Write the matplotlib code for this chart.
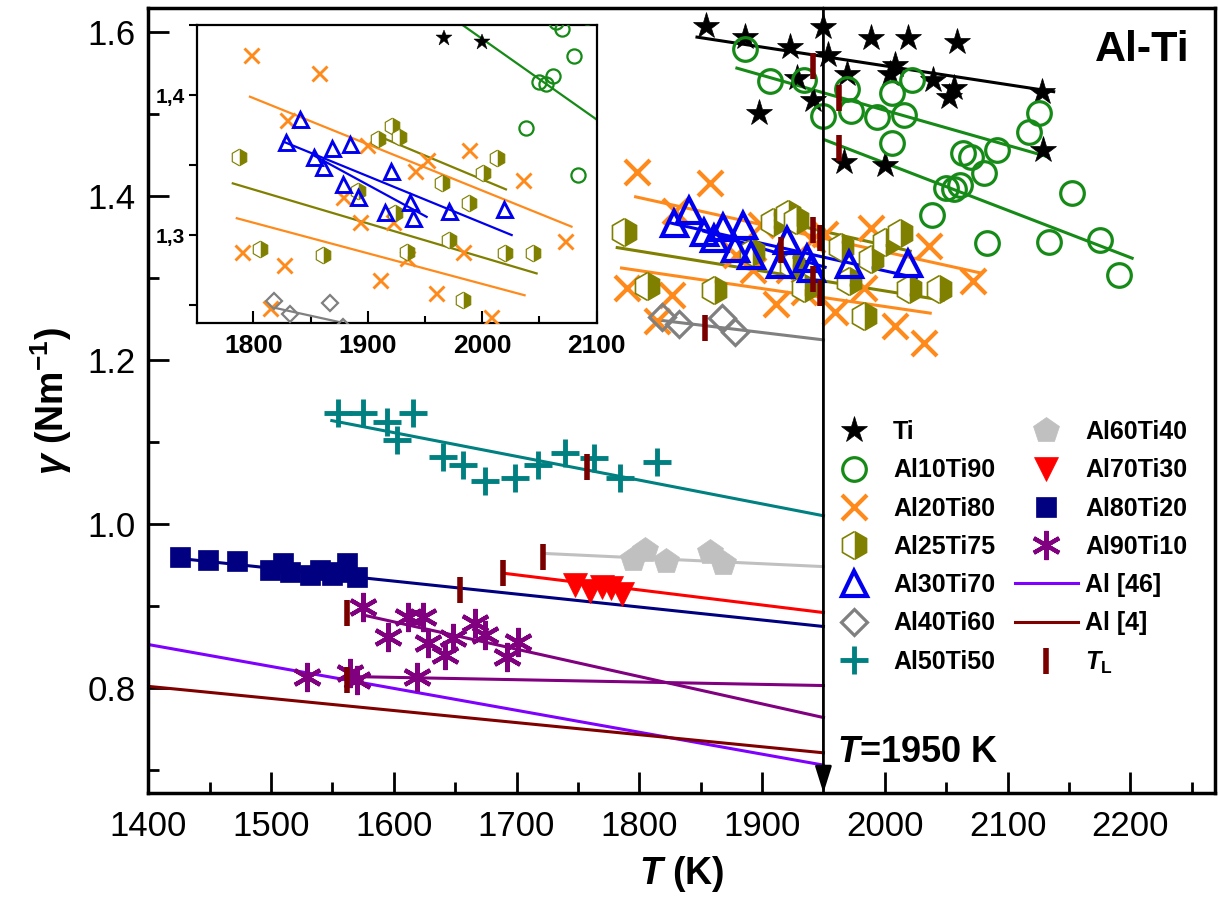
import matplotlib
matplotlib.use('Agg')
import matplotlib.pyplot as plt
from matplotlib.ticker import MultipleLocator, FixedLocator, FuncFormatter

plt.rcParams['font.family'] = ['Liberation Sans', 'DejaVu Sans']
plt.rcParams['mathtext.fontset'] = 'custom'
plt.rcParams['mathtext.rm'] = 'Liberation Sans:bold'
plt.rcParams['mathtext.it'] = 'Liberation Sans:italic:bold'
plt.rcParams['mathtext.bf'] = 'Liberation Sans:bold'

# ---------------- data (T in K, gamma in N/m) ----------------
ti_T = [1854.5, 1886, 1923, 1950, 1954, 1969, 1989, 2019, 2008.5, 2004, 2059, 2039.5,
        2056, 2052, 2128, 2129, 1897.6, 1941.7, 1967, 2000, 1928.6]
ti_g = [1.6065, 1.594, 1.581, 1.606, 1.572, 1.548, 1.593, 1.593, 1.560, 1.548, 1.587, 1.5415,
        1.532, 1.521, 1.526, 1.456, 1.501, 1.517, 1.441, 1.438, 1.544]

al10_T = [1886.3, 1906.7, 1933.8, 1949.6, 1969.2, 1972.4, 1993.6, 2005.8, 2022, 2015.9, 2005.8,
          2125.3, 2117.2, 2070, 2091.4, 2080.5, 2061.5, 2056, 2050, 2152.6, 2038.5, 2083.3,
          2133.5, 2175.6, 2190.5, 2064]
al10_g = [1.579, 1.540, 1.5415, 1.4976, 1.530, 1.503, 1.4967, 1.525, 1.5415, 1.4988, 1.465,
          1.5008, 1.4784, 1.447, 1.456, 1.4277, 1.4134, 1.408, 1.4095, 1.404, 1.3768, 1.343,
          1.3443, 1.3463, 1.3037, 1.452]

al20_T = [1798, 1857.7, 1829, 1899, 1951.4, 1941, 1988.6, 2035.8, 2072, 1790, 1826.8, 1878.6,
          1893, 1922, 1934, 1983.4, 1911, 1959.6, 1814.6, 2008, 2031.6]
al20_g = [1.4286, 1.4155, 1.382, 1.364, 1.3536, 1.346, 1.3607, 1.339, 1.296, 1.288, 1.2786,
          1.3274, 1.309, 1.3095, 1.2833, 1.288, 1.268, 1.2588, 1.2476, 1.2417, 1.2204]

al25_T = [1787.8, 1920.8, 1927.5, 1909.2, 2012.6, 2000.3, 1964.5, 1988.7, 1891.7, 1924, 1805.9,
          1861, 1933.9, 1971.2, 2019.8, 2044.5, 1983.4]
al25_g = [1.356, 1.3779, 1.3702, 1.3683, 1.3548, 1.344, 1.3374, 1.3226, 1.3317, 1.3155, 1.2898,
          1.2857, 1.288, 1.2964, 1.2869, 1.2869, 1.2536]

al30_T = [1828.3, 1840.8, 1853, 1861.1, 1868.4, 1884.5, 1878, 1891.2, 1920.3, 1915, 1936.9,
          1939.7, 1971.2, 2019]
al30_g = [1.3667, 1.3826, 1.356, 1.3488, 1.3619, 1.365, 1.3362, 1.3274, 1.346, 1.3167, 1.3238,
          1.3119, 1.3174, 1.3183]

al40_T = [1818.4, 1832, 1867.3, 1878]
al40_g = [1.2528, 1.2435, 1.2515, 1.2345]

al50_T = [1554.9, 1575.2, 1594.3, 1616, 1602.4, 1640.4, 1656.7, 1674.4, 1698.9, 1717.8, 1739.6,
          1762.7, 1784.4, 1814.3]
al50_g = [1.1357, 1.135, 1.1248, 1.1357, 1.1024, 1.082, 1.072, 1.0528, 1.0557, 1.072, 1.0862,
          1.080, 1.0557, 1.076]

al60_T = [1795, 1805, 1822, 1858, 1868]
al60_g = [0.957, 0.968, 0.955, 0.966, 0.952]

al70_T = [1748, 1760, 1770, 1777, 1786]
al70_g = [0.925, 0.918, 0.923, 0.922, 0.915]

al80_T = [1425.8, 1448.9, 1472.5, 1499.2, 1510, 1515.5, 1531.8, 1540, 1549.5, 1556.2, 1561.7, 1569.8]
al80_g = [0.960, 0.956, 0.955, 0.944, 0.952, 0.942, 0.938, 0.944, 0.938, 0.942, 0.952, 0.9357]

al90_T = [1575.2, 1595.6, 1611.9, 1624.1, 1628.2, 1641.8, 1648.6, 1666.3, 1674.4, 1701.5, 1692.1,
          1529.1, 1564.4, 1569.8, 1618.7]
al90_g = [0.899, 0.8626, 0.887, 0.887, 0.8545, 0.840, 0.8606, 0.879, 0.8646, 0.8565, 0.838,
          0.8138, 0.818, 0.8098, 0.8138]

# liquidus temperature markers
TL_T = [1941.5, 1963, 1963, 1941.5, 1947.4, 1947.4, 1941.5, 1915.4, 1853.7, 1757.3, 1721.4,
        1688.8, 1654, 1562, 1562]
TL_g = [1.5577, 1.519, 1.458, 1.3585, 1.348, 1.281, 1.2988, 1.334, 1.2386, 1.070, 0.960,
        0.940, 0.9195, 0.891, 0.8098]

# linear fits: endpoints (T1, T2), (g1, g2)
fit_ti_T, fit_ti_g = [1847, 2137.6], [1.5935, 1.527]
fit_al10a_T, fit_al10a_g = [1879.5, 2132], [1.5557, 1.448]
fit_al10b_T, fit_al10b_g = [1951.5, 2201.5], [1.468, 1.324]
fit_al20a_T, fit_al20a_g = [1797, 2078], [1.3988, 1.306]
fit_al20b_T, fit_al20b_g = [1785.5, 2037], [1.312, 1.257]
fit_al25a_T, fit_al25a_g = [1910.7, 2020.7], [1.3702, 1.3326]
fit_al25b_T, fit_al25b_g = [1782, 2047.5], [1.3369, 1.2726]
fit_al30a_T, fit_al30a_g = [1826.2, 2025.7], [1.3667, 1.300]
fit_al30b_T, fit_al30b_g = [1852.4, 1951.4], [1.357, 1.313]
fit_al40_T, fit_al40_g = [1814.3, 1950], [1.2488, 1.2244]
fit_al50_T, fit_al50_g = [1549.5, 1950], [1.126, 1.010]
fit_al60_T, fit_al60_g = [1723, 1950], [0.964, 0.948]
fit_al70_T, fit_al70_g = [1689, 1950], [0.940, 0.892]
fit_al80_T, fit_al80_g = [1425, 1950], [0.958, 0.875]
fit_al90a_T, fit_al90a_g = [1575, 1950], [0.889, 0.764]
fit_al90b_T, fit_al90b_g = [1564, 1950], [0.814, 0.803]
al46_T, al46_g = [1400, 1950], [0.853, 0.706]
al4_T, al4_g = [1400, 1950], [0.802, 0.721]

labels = ['Ti', 'Al10Ti90', 'Al20Ti80', 'Al25Ti75', 'Al30Ti70', 'Al40Ti60', 'Al50Ti50',
          'Al60Ti40', 'Al70Ti30', 'Al80Ti20', 'Al90Ti10']

# ---------------- styles ----------------
C_TI, C_10, C_20, C_25, C_30 = 'black', '#168a16', '#ff8a1c', '#808000', '#0000ee'
C_40, C_50, C_60, C_70, C_80, C_90 = '#808080', '#008080', '#c0c0c0', '#ff0000', '#000080', '#800080'
C_46, C_4, C_TL = '#8000ff', '#800000', '#7a0000'
ASTER = (6, 2, 0)

series = [
    (ti_T, ti_g, dict(marker='*', color=C_TI, ms=20, mew=0.5)),
    (al10_T, al10_g, dict(marker='o', mfc='none', mec=C_10, ms=17, mew=2.3)),
    (al20_T, al20_g, dict(marker='x', color=C_20, ms=18, mew=3)),
    (al25_T, al25_g, dict(marker='h', fillstyle='right', mfc=C_25, mfcalt='white', mec=C_25, ms=20, mew=1.2)),
    (al30_T, al30_g, dict(marker='^', mfc='none', mec=C_30, ms=18, mew=3)),
    (al40_T, al40_g, dict(marker='D', mfc='none', mec=C_40, ms=13, mew=2.3)),
    (al50_T, al50_g, dict(marker='+', color=C_50, ms=20, mew=3.5)),
    (al60_T, al60_g, dict(marker='p', color=C_60, ms=19, mew=0.5)),
    (al70_T, al70_g, dict(marker='v', color=C_70, ms=17, mew=0.5)),
    (al80_T, al80_g, dict(marker='s', color=C_80, ms=15, mew=0.5)),
    (al90_T, al90_g, dict(marker=ASTER, color=C_90, ms=21, mew=3)),
]
fits = [(fit_ti_T, fit_ti_g, C_TI), (fit_al10a_T, fit_al10a_g, C_10), (fit_al10b_T, fit_al10b_g, C_10),
        (fit_al20a_T, fit_al20a_g, C_20), (fit_al20b_T, fit_al20b_g, C_20),
        (fit_al25a_T, fit_al25a_g, C_25), (fit_al25b_T, fit_al25b_g, C_25),
        (fit_al30a_T, fit_al30a_g, C_30), (fit_al30b_T, fit_al30b_g, C_30),
        (fit_al40_T, fit_al40_g, C_40), (fit_al50_T, fit_al50_g, C_50),
        (fit_al60_T, fit_al60_g, C_60), (fit_al70_T, fit_al70_g, C_70),
        (fit_al80_T, fit_al80_g, C_80), (fit_al90a_T, fit_al90a_g, C_90),
        (fit_al90b_T, fit_al90b_g, C_90)]

W, H = 1218, 910
fig = plt.figure(figsize=(W / 100, H / 100), dpi=100)
ax = fig.add_axes([148.3 / W, 1 - 793 / H, (1215 - 148.3) / W, (793 - 8) / H])


def draw(a, scale, lw):
    handles = []
    for (lx, ly, col) in fits:
        a.plot(lx, ly, '-', color=col, lw=lw, zorder=2)
    for (x, y, st), lab in zip(series, labels):
        st = dict(st)
        st['ms'] = st['ms'] * scale
        st['mew'] = st['mew'] * (scale if scale > 0.7 else 0.7)
        if 'mfcalt' in st:
            st['markerfacecoloralt'] = st.pop('mfcalt')
        h, = a.plot(x, y, ls='none', label=lab, zorder=3, **st)
        handles.append(h)
    return handles


handles = draw(ax, 1.0, 2.2)
h46, = ax.plot(al46_T, al46_g, '-', color=C_46, lw=2.2, label='Al [46]', zorder=2)
h4, = ax.plot(al4_T, al4_g, '-', color=C_4, lw=2.2, label='Al [4]', zorder=2)
hTL, = ax.plot(TL_T, TL_g, ls='none', marker='|', color=C_TL, ms=19, mew=4,
               label=r'$T$$_{\mathrm{L}}$', zorder=4)

ax.set_xlim(1400, 2269)
ax.set_ylim(0.672, 1.629)
ax.xaxis.set_major_locator(MultipleLocator(100))
ax.xaxis.set_minor_locator(MultipleLocator(50))
ax.yaxis.set_major_locator(MultipleLocator(0.2))
ax.yaxis.set_minor_locator(MultipleLocator(0.1))
ax.yaxis.set_major_formatter(FuncFormatter(lambda v, p: f'{v:.1f}'))
ax.tick_params(which='both', direction='in', top=False, right=False, width=2)
ax.tick_params(which='major', length=15, labelsize=25)
ax.tick_params(which='minor', length=8)
ax.tick_params(axis='x', pad=12)
ax.tick_params(axis='y', pad=9)
for s in ax.spines.values():
    s.set_linewidth(2.5)

ax.set_xlabel(r'$T$ (K)', fontsize=27, fontweight='bold', labelpad=8)
ax.set_ylabel(r'$\gamma$ (Nm$^{-1}$)', fontsize=27, fontweight='bold', labelpad=10)

# vertical line with arrow at T = 1950 K
ax.annotate('', xy=(1950, 0.672), xytext=(1950, 1.629),
            arrowprops=dict(arrowstyle='-|>,head_length=0.8,head_width=0.25', lw=2,
                            color='k', mutation_scale=20, shrinkA=0, shrinkB=0),
            zorder=5, annotation_clip=False)
ax.text(0.6456, 0.052, r'$T$=1950 K', transform=ax.transAxes, fontsize=26,
        fontweight='bold', ha='left', va='center')
ax.text(0.9766, 0.946, 'Al-Ti', transform=ax.transAxes, fontsize=31,
        fontweight='bold', ha='right', va='center')

leg = ax.legend(handles=handles[:7] + [handles[7], handles[8], handles[9], handles[10], h46, h4, hTL],
                ncol=2, loc='upper left', bbox_to_anchor=(0.6325, 0.475), frameon=False,
                borderpad=0, borderaxespad=0, prop=dict(weight='bold', size=18),
                handlelength=2.5, handletextpad=0.3, labelspacing=0.57, columnspacing=0.8)

# ---------------- inset ----------------
ax2 = fig.add_axes([197.3 / W, 1 - 322.7 / H, 399.4 / W, 297.7 / H])
draw(ax2, 0.6, 1.6)
ax2.set_xlim(1751, 2100)
ax2.set_ylim(1.2374, 1.45)
ax2.xaxis.set_major_locator(MultipleLocator(100))
ax2.xaxis.set_minor_locator(MultipleLocator(50))
ax2.yaxis.set_major_locator(FixedLocator([1.3, 1.4]))
ax2.yaxis.set_minor_locator(FixedLocator([1.25, 1.35, 1.45]))
ax2.yaxis.set_major_formatter(FuncFormatter(lambda v, p: f'{v:.1f}'.replace('.', ',')))
ax2.tick_params(axis='x', which='both', direction='in', width=1.5, labelsize=19, pad=8)
ax2.tick_params(axis='x', which='major', length=9)
ax2.tick_params(axis='x', which='minor', length=5)
ax2.tick_params(axis='y', which='both', direction='out', width=1.5, labelsize=15, pad=3)
ax2.tick_params(axis='y', which='major', length=6)
ax2.tick_params(axis='y', which='minor', length=6)
for lab in ax2.get_xticklabels() + ax2.get_yticklabels():
    lab.set_fontweight('bold')
for s in ax2.spines.values():
    s.set_linewidth(1.6)

fig.savefig('out.png', dpi=100)
